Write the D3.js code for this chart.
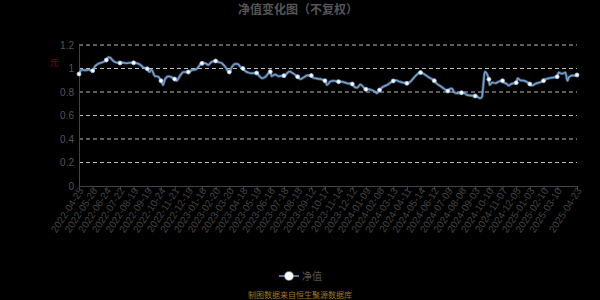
<!DOCTYPE html>
<html>
<head>
<meta charset="utf-8">
<script src="https://cdn.jsdelivr.net/npm/d3@7"></script>
<style>
  html, body { margin: 0; padding: 0; background: #000; }
  #mycontent { width: 600px; height: 300px; }
  text { font-family: "Liberation Sans", Arial, sans-serif; }
</style>
</head>
<body>
<div id="mycontent"></div>
<script>
// Подписи оси X (каждые 20 торговых дней + последний день)
var tickLabels = ["2022-04-25","2022-05-26","2022-06-24","2022-07-22","2022-08-19","2022-09-19",
  "2022-10-24","2022-11-21","2022-12-19","2023-01-16","2023-02-20","2023-03-20","2023-04-18",
  "2023-05-19","2023-06-16","2023-07-18","2023-08-15","2023-09-12","2023-10-17","2023-11-14",
  "2023-12-12","2024-01-09","2024-02-06","2024-03-13","2024-04-11","2024-05-14","2024-06-12",
  "2024-07-09","2024-08-06","2024-09-03","2024-10-10","2024-11-07","2024-12-05","2025-01-03",
  "2025-02-10","2025-03-10","2025-04-23"];
// Номер торгового дня для каждой подписи
var tickIdx = [0,20,40,60,80,100,120,140,160,180,200,220,240,260,280,300,320,340,360,380,
  400,420,440,460,480,500,520,540,560,580,600,620,640,660,680,700,729];

// Точки кривой: номер торгового дня и значение
var dayIdx = [0,4,9,14,20,23,28,33,40,43,46,50,55,60,65,70,75,80,85,90,94,100,103,106,111,116,
  120,123,126,131,134,140,143,148,153,160,165,172,180,185,189,194,200,204,209,214,220,224,229,
  233,236,240,243,248,253,260,264,268,273,280,282,287,292,300,303,308,313,320,324,329,334,340,
  343,348,353,360,363,368,373,380,385,392,400,403,407,412,420,424,429,434,436,440,444,451,460,
  463,470,480,485,490,500,507,512,520,524,529,534,540,541,546,549,553,560,563,568,573,580,583,
  587,590,592,594,600,601,605,610,613,620,622,626,629,633,640,642,646,652,660,663,668,680,683,
  690,700,702,707,712,715,717,722,725,729];
var navValues = [0.953,0.99,0.985,0.99,0.981,1.015,1.04,1.05,1.072,1.095,1.09,1.065,1.05,1.047,
  1.05,1.045,1.05,1.048,1.045,1.03,1.01,0.997,0.97,0.99,0.936,0.93,0.896,0.86,0.91,0.935,0.93,
  0.91,0.896,0.94,0.97,0.97,0.985,0.995,1.044,1.044,1.03,1.055,1.064,1.055,1.045,1.015,0.97,
  1.015,1.04,1.036,1.015,1.0,0.98,0.965,0.96,0.962,0.935,0.916,0.93,0.973,0.935,0.95,0.935,
  0.939,0.95,0.974,0.96,0.93,0.91,0.925,0.94,0.94,0.92,0.915,0.91,0.896,0.86,0.89,0.896,0.888,
  0.888,0.875,0.868,0.845,0.836,0.864,0.823,0.823,0.815,0.80,0.789,0.817,0.84,0.86,0.894,0.90,
  0.887,0.874,0.887,0.92,0.965,0.945,0.925,0.896,0.87,0.85,0.83,0.808,0.82,0.83,0.80,0.79,
  0.794,0.794,0.775,0.77,0.766,0.76,0.746,0.76,0.87,0.973,0.908,0.86,0.88,0.875,0.885,0.896,
  0.88,0.87,0.855,0.87,0.879,0.916,0.90,0.896,0.868,0.855,0.87,0.896,0.91,0.92,0.93,0.967,
  0.955,0.965,0.896,0.925,0.94,0.94,0.945];

var yTicks = [0, 0.2, 0.4, 0.6, 0.8, 1, 1.2];

var dataset = dayIdx.map(function (d, i) { return { x: d, y: navValues[i] }; });

var width = 600, height = 300;
var margin = { top: 45, right: 23, bottom: 114, left: 79 };

function drawChart() {
    var svg = d3.select("#mycontent").append("svg")
        .attr("width", width)
        .attr("height", height)
        .style("background", "#000");

    var xScale = d3.scaleLinear()
        .domain([0, 729])
        .range([margin.left, width - margin.right]);

    var yScale = d3.scaleLinear()
        .domain([0, 1.2])
        .range([height - margin.bottom, margin.top]);

    // Заголовок
    svg.append("text")
        .attr("x", 298).attr("y", 14)
        .attr("text-anchor", "middle")
        .attr("fill", "#555")
        .attr("font-size", 12)
        .attr("font-weight", "bold")
        .style("font-family", "'Noto Sans CJK SC', sans-serif")
        .text("净值变化图（不复权）");

    // Сетка
    svg.append("g")
        .selectAll("line")
        .data(yTicks.filter(function (d) { return d > 0; }))
        .join("line")
        .attr("x1", xScale(0)).attr("x2", xScale(729))
        .attr("y1", function (d) { return yScale(d); })
        .attr("y2", function (d) { return yScale(d); })
        .attr("stroke", "#bbb")
        .attr("stroke-width", 1)
        .attr("stroke-dasharray", "4,3");

    // Ось Y
    var yAxis = svg.append("g")
        .attr("transform", "translate(" + margin.left + ",0)")
        .call(d3.axisLeft(yScale).tickValues(yTicks).tickSize(0).tickPadding(5)
            .tickFormat(function (d) { return d3.format("~g")(d); }));
    yAxis.select(".domain").attr("stroke", "#444");
    yAxis.selectAll("text").attr("fill", "#555").attr("font-size", 10)
        .style("font-family", "'Liberation Sans', Arial, sans-serif");

    // Название оси Y
    svg.append("text")
        .attr("x", 54).attr("y", 66)
        .attr("text-anchor", "middle")
        .attr("fill", "#8b0000")
        .attr("font-size", 9)
        .style("font-family", "'Noto Sans CJK SC', sans-serif")
        .text("元");

    // Ось X
    var xAxis = svg.append("g")
        .attr("transform", "translate(0," + yScale(0) + ")")
        .call(d3.axisBottom(xScale).tickValues(tickIdx).tickSize(4).tickSizeOuter(0)
            .tickFormat(function (d, i) { return tickLabels[i]; }));
    xAxis.select(".domain").attr("stroke", "#444");
    xAxis.selectAll(".tick line").attr("stroke", "#444");
    xAxis.selectAll("text")
        .attr("fill", "#444")
        .attr("font-size", 10)
        .style("font-family", "'Liberation Sans', Arial, sans-serif")
        .attr("text-anchor", "end")
        .attr("dy", "0.35em")
        .attr("transform", "translate(0,-2) rotate(-57)")
        .attr("x", -3).attr("y", 4);

    // Линия
    var line = d3.line()
        .x(function (d) { return xScale(d.x); })
        .y(function (d) { return yScale(d.y); })
        .curve(d3.curveMonotoneX);

    svg.append("path")
        .datum(dataset)
        .attr("fill", "none")
        .attr("stroke", "#b8d4f4")
        .attr("stroke-opacity", 0.35)
        .attr("stroke-width", 3)
        .attr("d", line);

    svg.append("path")
        .datum(dataset)
        .attr("fill", "none")
        .attr("stroke", "#6f9fd8")
        .attr("stroke-width", 1.5)
        .attr("d", line);

    // Маркеры в позициях подписей
    svg.append("g")
        .selectAll("circle")
        .data(dataset.filter(function (d) { return tickIdx.indexOf(d.x) >= 0; }))
        .join("circle")
        .attr("cx", function (d) { return xScale(d.x); })
        .attr("cy", function (d) { return yScale(d.y); })
        .attr("r", 2)
        .attr("fill", "#fff")
        .attr("stroke", "#9cc2ee")
        .attr("stroke-width", 0.8);

    // Легенда
    var lg = svg.append("g").attr("transform", "translate(289,276)");
    lg.append("line").attr("x1", -10).attr("x2", 10)
        .attr("stroke", "#6f9fd8").attr("stroke-width", 1.5);
    lg.append("circle").attr("r", 5).attr("fill", "#cfe3fb").attr("opacity", 0.5);
    lg.append("circle").attr("r", 4).attr("fill", "#fff");
    lg.append("text").attr("x", 13).attr("y", 4)
        .attr("fill", "#555").attr("font-size", 10)
        .style("font-family", "'Noto Sans CJK SC', sans-serif")
        .text("净值");

    // Источник
    svg.append("text")
        .attr("x", 300).attr("y", 298)
        .attr("text-anchor", "middle")
        .attr("fill", "#a07818")
        .attr("font-size", 8)
        .style("font-family", "'Noto Sans CJK SC', sans-serif")
        .text("制图数据来自恒生聚源数据库");
}

drawChart();
</script>
</body>
</html>
